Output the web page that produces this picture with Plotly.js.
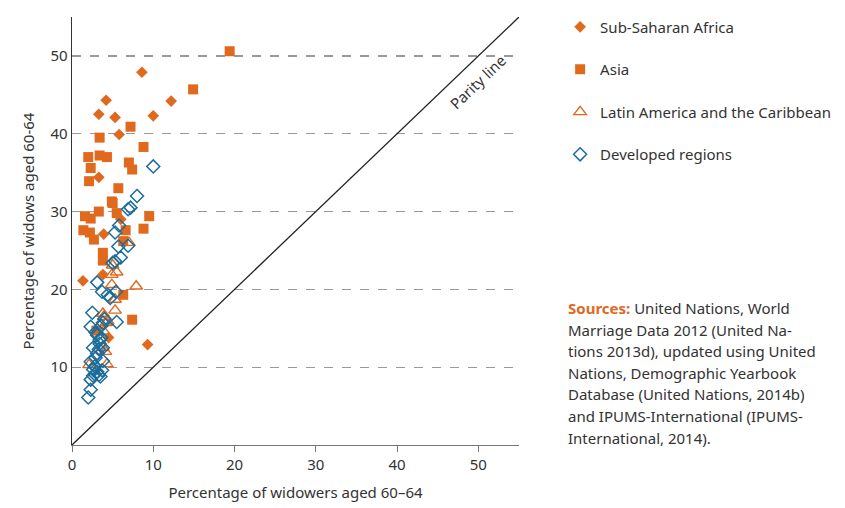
<!DOCTYPE html>
<html>
<head>
<meta charset="utf-8">
<script src="https://cdn.plot.ly/plotly-3.0.1.min.js"></script>
<style>body{margin:0;background:#fff}#chart{width:845px;height:508px}</style>
</head>
<body>
<div id="chart"></div>
<script>
// Sub-Saharan Africa
var ssaX = [8.6, 12.2, 10.0, 4.2, 3.3, 5.3, 5.8, 3.3, 6.0, 3.9, 1.35, 3.8, 4.5, 9.3];
var ssaY = [47.9, 44.2, 42.3, 44.3, 42.5, 42.1, 39.9, 34.4, 29.0, 27.1, 21.1, 21.9, 13.8, 12.9];
// Asia
var asiaX = [19.4, 14.9, 7.2, 3.4, 8.8, 2.0, 3.4, 4.3, 7.0, 2.3, 7.4, 2.1, 5.7, 4.9, 5.0, 3.3, 1.6, 2.3, 5.5, 9.5, 1.4, 2.2, 6.6, 8.8, 2.7, 6.3, 3.8, 3.8, 6.3, 7.4, 3.0];
var asiaY = [50.6, 45.7, 40.9, 39.5, 38.3, 37.0, 37.2, 37.0, 36.3, 35.6, 35.4, 33.9, 33.0, 31.3, 31.1, 30.0, 29.4, 29.1, 29.8, 29.4, 27.6, 27.3, 27.6, 27.8, 26.4, 26.2, 24.7, 23.7, 19.3, 16.1, 14.7];
// Latin America and the Caribbean
var lacX = [7.0, 5.0, 5.5, 4.9, 4.9, 7.9, 5.3, 5.3, 3.8, 3.9, 4.4, 4.2, 3.9, 3.8, 4.1, 2.1, 4.3];
var lacY = [26.0, 23.1, 22.2, 21.9, 20.6, 20.4, 18.7, 17.3, 16.9, 16.5, 15.9, 15.7, 14.6, 12.5, 12.0, 10.3, 10.4];
// Developed regions
var devX = [10.0, 8.0, 7.2, 6.9, 5.8, 5.3, 6.9, 5.7, 6.0, 5.3, 5.0, 3.1, 3.7, 4.4, 5.4, 4.7, 2.5, 2.3, 3.6, 3.8, 5.5, 3.4, 3.6, 2.6, 3.3, 3.8, 3.1, 2.9, 3.8, 2.3, 2.8, 2.6, 3.1, 2.8, 3.7, 3.3, 2.6, 2.3, 3.5, 2.3, 2.0, 2.9, 4.0, 3.1, 3.4];
var devY = [35.8, 32.0, 30.5, 30.3, 28.2, 27.3, 25.6, 25.5, 24.1, 23.6, 23.4, 20.9, 19.7, 19.3, 19.7, 18.9, 17.0, 15.2, 15.3, 15.7, 15.8, 13.5, 13.8, 12.5, 12.3, 12.5, 11.8, 11.2, 10.8, 10.7, 10.1, 9.7, 9.4, 9.1, 9.6, 9.0, 8.9, 8.4, 8.8, 7.1, 6.1, 14.5, 16.2, 14.1, 13.0];
// Parity line
var parityX = [0, 55];
var parityY = [0, 55];
// Source note lines
var sourceLines = [
  'United Nations, World',
  'Marriage Data 2012 (United Na-',
  'tions 2013d), updated using United',
  'Nations, Demographic Yearbook',
  'Database (United Nations, 2014b)',
  'and IPUMS-International (IPUMS-',
  'International, 2014).'
];

var orange = '#E0691E';
var blue = '#1B6C9A';
var font = 'Noto Sans, sans-serif';

var traces = [
  {x: parityX, y: parityY, mode: 'lines', line: {color: '#222', width: 1.3}, showlegend: false, hoverinfo: 'skip'},
  {x: ssaX, y: ssaY, mode: 'markers', name: 'Sub-Saharan Africa', legendgroup: 'a',
   marker: {symbol: 'diamond', size: 9, color: orange}},
  {x: asiaX, y: asiaY, mode: 'markers', name: 'Asia', legendgroup: 'b',
   marker: {symbol: 'square', size: 10, color: orange}},
  {x: lacX, y: lacY, mode: 'markers', name: 'Latin America and the Caribbean', legendgroup: 'c',
   marker: {symbol: 'triangle-up-open', size: 11, color: orange, line: {width: 1.4, color: orange}}},
  {x: devX, y: devY, mode: 'markers', name: 'Developed regions', legendgroup: 'd',
   marker: {symbol: 'diamond-open', size: 10, color: blue, line: {width: 1.5, color: blue}}}
];

var plotTop = 17, plotBottom = 445, plotH = plotBottom - plotTop;
var annotations = [
  {x: 49.9, y: 46.6, xref: 'x', yref: 'y', text: 'Parity line', showarrow: false, textangle: -43.6,
   font: {size: 15, color: '#333'}}
];
sourceLines.forEach(function (line, i) {
  var py = 308 + i * 21.6;
  var txt = i === 0 ? '<b><span style="color:' + orange + '">Sources:</span></b> ' + line : line;
  annotations.push({x: 1.105, y: (plotBottom - py) / plotH, xref: 'paper', yref: 'paper',
    xanchor: 'left', yanchor: 'middle', align: 'left', text: txt, showarrow: false,
    font: {size: 15, color: '#333'}});
});

var layout = {
  width: 845, height: 508,
  margin: {l: 72, r: 326, t: 17, b: 63, autoexpand: false},
  paper_bgcolor: '#fff', plot_bgcolor: '#fff',
  font: {family: font, size: 15, color: '#333'},
  xaxis: {
    range: [0, 55], tickvals: [0, 10, 20, 30, 40, 50], showgrid: false, zeroline: false,
    showline: true, linecolor: '#777', linewidth: 1.3, ticks: 'outside', ticklen: 6, tickcolor: '#777',
    tickfont: {size: 15, color: '#333'},
    title: {text: 'Percentage of widowers aged 60\u201364', font: {size: 15, color: '#333'}, standoff: 14}
  },
  yaxis: {
    range: [0, 55], tickvals: [10, 20, 30, 40, 50], showgrid: true, gridcolor: '#999', griddash: 'dash', gridwidth: 1.2,
    zeroline: false, showline: true, linecolor: '#333', linewidth: 1.3, ticks: '',
    tickfont: {size: 15, color: '#333'},
    title: {text: 'Percentage of widows aged 60-64', font: {size: 15, color: '#333'}, standoff: 12}
  },
  legend: {x: 1.092, y: 1.015, xanchor: 'left', yanchor: 'top', traceorder: 'grouped', tracegroupgap: 20,
    font: {size: 15, color: '#333'}, bgcolor: 'rgba(0,0,0,0)'},
  annotations: annotations,
  showlegend: true
};

Plotly.newPlot('chart', traces, layout, {displayModeBar: false, staticPlot: true});
</script>
</body>
</html>
